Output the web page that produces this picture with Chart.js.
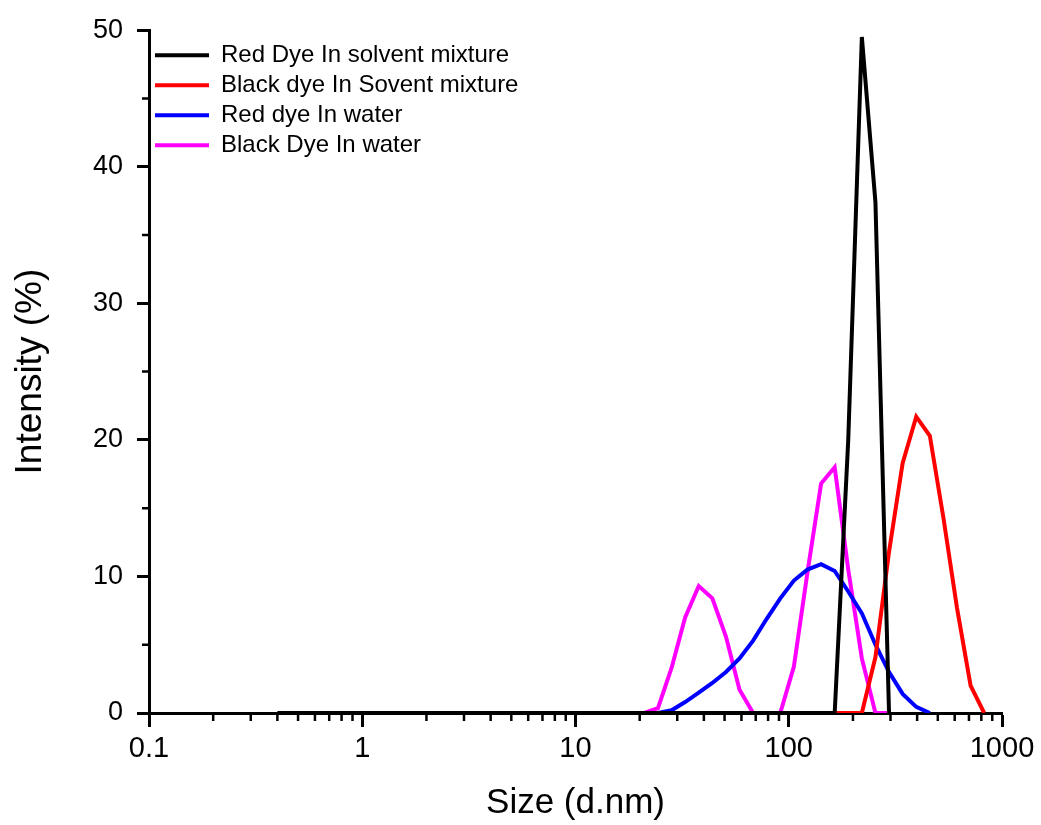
<!DOCTYPE html>
<html>
<head>
<meta charset="utf-8">
<script src="https://cdn.jsdelivr.net/npm/chart.js@4.4.1/dist/chart.umd.min.js"></script>
<style>
html,body{margin:0;padding:0;background:#ffffff;}
canvas{display:block;}
</style>
</head>
<body>
<canvas id="c" width="1041" height="825"></canvas>
<script>
// ---------- data ----------
const seriesNames = ['Red Dye In solvent mixture', 'Black dye In Sovent mixture', 'Red dye In water', 'Black Dye In water'];
const seriesColors = ['#000000', '#ff0000', '#0000ff', '#ff00ff'];

// Red Dye In solvent mixture (black curve)
const redSolventSize = [0.4, 0.4632, 0.5365, 0.6213, 0.7195, 0.8332, 0.9649, 1.117, 1.294, 1.499,
  1.736, 2.01, 2.328, 2.696, 3.122, 3.615, 4.187, 4.849, 5.615, 6.503,
  7.531, 8.721, 10.1, 11.7, 13.54, 15.69, 18.17, 21.04, 24.36, 28.21,
  32.67, 37.84, 43.82, 50.75, 58.77, 68.06, 78.82, 91.28, 105.7, 122.4,
  141.8, 164.2, 190.1, 220.2, 255, 295.3];
const redSolventIntensity = [0, 0, 0, 0, 0, 0, 0, 0, 0, 0,
  0, 0, 0, 0, 0, 0, 0, 0, 0, 0,
  0, 0, 0, 0, 0, 0, 0, 0, 0, 0,
  0, 0, 0, 0, 0, 0, 0, 0, 0, 0,
  0, 0, 20.0, 49.5, 37.4, 0];

// Black dye In Sovent mixture (red curve)
const blackSolventSize = [164.2, 190.1, 220.2, 255, 295.3, 342, 396.1, 458.7, 531.2, 615.1, 712.4, 825];
const blackSolventIntensity = [0, 0, 0, 4.1, 11.8, 18.3, 21.7, 20.3, 14.3, 7.7, 2.0, 0];

// Red dye In water (blue curve)
const redWaterSize = [24.36, 28.21, 32.67, 37.84, 43.82, 50.75, 58.77, 68.06, 78.82, 91.28,
  105.7, 122.4, 141.8, 164.2, 190.1, 220.2, 255, 295.3, 342, 396.1, 458.7];
const redWaterIntensity = [0, 0.2, 0.8, 1.5, 2.2, 3.0, 4.0, 5.3, 6.9, 8.4,
  9.7, 10.5, 10.9, 10.4, 8.9, 7.3, 5.0, 3.0, 1.4, 0.45, 0];

// Black Dye In water (magenta curve)
const blackWaterSize = [21.04, 24.36, 28.21, 32.67, 37.84, 43.82, 50.75, 58.77, 68.06, 78.82,
  91.28, 105.7, 122.4, 141.8, 164.2, 190.1, 220.2, 255, 295.3];
const blackWaterIntensity = [0, 0.35, 3.3, 7.0, 9.3, 8.4, 5.6, 1.7, 0, 0,
  0, 3.4, 10.3, 16.8, 18.0, 10.5, 4.0, 0, 0];

// ticks
const xMajorTicks = [0.1, 1, 10, 100, 1000];
const xMajorLabels = ['0.1', '1', '10', '100', '1000'];
const xMinorTicks = [0.2, 0.3, 0.4, 0.5, 0.6, 0.7, 0.8, 0.9,
  2, 3, 4, 5, 6, 7, 8, 9,
  20, 30, 40, 50, 60, 70, 80, 90,
  200, 300, 400, 500, 600, 700, 800, 900];
const yMajorTicks = [0, 10, 20, 30, 40, 50];
const yMajorLabels = ['0', '10', '20', '30', '40', '50'];
const yMinorTicks = [5, 15, 25, 35, 45];

const xTitle = 'Size (d.nm)';
const yTitle = 'Intensity (%)';

// ---------- chart ----------
const FONT = "'Liberation Sans', Arial, sans-serif";

function toPoints(xs, ys) { return xs.map((x, i) => ({ x: x, y: ys[i] })); }

const seriesSizes = [redSolventSize, blackSolventSize, redWaterSize, blackWaterSize];
const seriesValues = [redSolventIntensity, blackSolventIntensity, redWaterIntensity, blackWaterIntensity];

const datasets = seriesNames.map((name, i) => ({
  label: name,
  data: toPoints(seriesSizes[i], seriesValues[i]),
  borderColor: seriesColors[i],
  backgroundColor: seriesColors[i],
  borderWidth: 4,
  pointRadius: 0,
  pointHoverRadius: 0,
  tension: 0,
  fill: false
}));

const minorTickPlugin = {
  id: 'minorTicks',
  afterDraw(chart) {
    const ctx = chart.ctx;
    const xs = chart.scales.x, ys = chart.scales.y;
    ctx.save();
    ctx.strokeStyle = '#000000';
    ctx.lineWidth = 2.5;
    ctx.beginPath();
    xMinorTicks.forEach(v => {
      const px = xs.getPixelForValue(v);
      ctx.moveTo(px, xs.top);
      ctx.lineTo(px, xs.top + 8);
    });
    yMinorTicks.forEach(v => {
      const py = ys.getPixelForValue(v);
      ctx.moveTo(ys.right, py);
      ctx.lineTo(ys.right - 7, py);
    });
    ctx.stroke();
    ctx.restore();
  }
};

new Chart(document.getElementById('c'), {
  type: 'line',
  data: { datasets: datasets },
  plugins: [minorTickPlugin],
  options: {
    responsive: false,
    animation: false,
    devicePixelRatio: 1,
    layout: { padding: { left: 0, top: 28, right: 39, bottom: 0 } },
    plugins: {
      tooltip: { enabled: false },
      legend: {
        display: true,
        position: 'chartArea',
        align: 'start',
        title: { display: true, text: ' ', font: { size: 1 }, padding: { top: 0, bottom: 36 } },
        labels: {
          boxWidth: 54,
          boxHeight: 4,
          padding: 6,
          color: '#000000',
          font: { family: FONT, size: 24 },
          generateLabels(chart) {
            return Chart.defaults.plugins.legend.labels.generateLabels(chart).map(it => Object.assign(it, { lineWidth: 0 }));
          }
        }
      }
    },
    scales: {
      x: {
        type: 'logarithmic',
        min: 0.1,
        max: 1000,
        afterBuildTicks(scale) { scale.ticks = xMajorTicks.map(v => ({ value: v })); },
        afterFit(scale) { scale.height = 112; },
        border: { display: true, color: '#000000', width: 3 },
        grid: { display: true, drawOnChartArea: false, drawTicks: true, tickLength: 14, tickWidth: 3, tickColor: '#000000' },
        ticks: {
          autoSkip: false,
          maxRotation: 0,
          padding: 5,
          color: '#000000',
          font: { family: FONT, size: 29 },
          callback(v) { const i = xMajorTicks.indexOf(v); return i >= 0 ? xMajorLabels[i] : ''; }
        },
        title: { display: true, text: xTitle, color: '#000000', font: { family: FONT, size: 35 }, padding: { top: 0, bottom: 1 } }
      },
      y: {
        type: 'linear',
        min: 0,
        max: 50,
        afterBuildTicks(scale) { scale.ticks = yMajorTicks.map(v => ({ value: v })); },
        afterFit(scale) { scale.width = 149; },
        border: { display: true, color: '#000000', width: 3 },
        grid: { display: true, drawOnChartArea: false, drawTicks: true, tickLength: 12, tickWidth: 3, tickColor: '#000000' },
        ticks: {
          padding: 14,
          color: '#000000',
          font: { family: FONT, size: 27 },
          callback(v) { const i = yMajorTicks.indexOf(v); return i >= 0 ? yMajorLabels[i] : ''; }
        },
        title: { display: true, text: yTitle, color: '#000000', font: { family: FONT, size: 37 }, padding: { top: 9, bottom: 0 } }
      }
    }
  }
});
</script>
</body>
</html>
